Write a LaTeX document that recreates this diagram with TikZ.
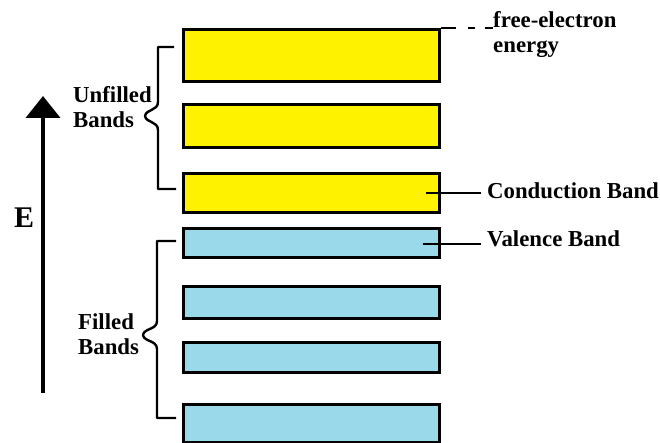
\documentclass[tikz,border=0pt]{standalone}
\usepackage{fontspec}
\setmainfont{Liberation Serif}[BoldFont={Liberation Serif Bold}]
\usetikzlibrary{arrows.meta,calc}
\definecolor{bandyellow}{RGB}{255,242,0}
\definecolor{bandblue}{RGB}{153,217,234}
\begin{document}
\begin{tikzpicture}[x=1pt,y=-1pt,
  band/.style={draw=black,line width=2.6pt,anchor=north west,inner sep=0pt,minimum width=256pt},
  ubandbox/.style={band,fill=bandyellow},
  fbandbox/.style={band,fill=bandblue},
  lbl/.style={font=\rmfamily\bfseries\fontsize{22.8}{25.5}\selectfont,inner sep=0pt,align=left},
  brace/.style={line width=2.4pt,line join=round},
  pointer/.style={line width=2pt}]
\useasboundingbox (0,0) rectangle (660,443);
% bands
\node[ubandbox,minimum height=52pt] (u1) at (182,28) {};
\node[ubandbox,minimum height=43pt] (u2) at (182,103) {};
\node[ubandbox,minimum height=39pt] (u3) at (182,172) {};
\node[fbandbox,minimum height=29pt] (f1) at (182,227) {};
\node[fbandbox,minimum height=32pt] (f2) at (182,285) {};
\node[fbandbox,minimum height=30pt] (f3) at (182,341) {};
\node[fbandbox,minimum height=38pt] (f4) at (182,403) {};
% labels
\node[lbl,anchor=north west] (fe) at (493,11) {free-electron\\energy};
\node[lbl,anchor=base west] (cb) at (487,199) {Conduction Band};
\node[lbl,anchor=base west] (vb) at (487,247) {Valence Band};
\node[lbl,anchor=north west] (ub) at (73,86) {Unfilled\\Bands};
\node[lbl,anchor=north west] (fb) at (78,313) {Filled\\Bands};
\node[font=\rmfamily\bfseries\fontsize{30}{32}\selectfont,inner sep=0pt,anchor=base west] (e) at (14,228) {E};
% energy arrow
\coordinate (ea) at (43,393);
\coordinate (eb) at (43,96);
\draw[line width=4pt,-{Triangle[width=34pt,length=22pt]}] (ea) -- (eb);
% free electron level
\draw[line width=2.2pt,dash pattern=on 15pt off 12pt on 7pt off 10pt on 8pt off 50pt] (u1.north east) -- ($(u1.north east)+(52,0)$);
% pointers
\draw[pointer] ($(u3.east)+(-15,0)$) -- ++(55,0);
\draw[pointer] ($(f1.east)+(-18,1.5)$) -- ++(58,0);
% braces
\draw[brace] (174,47) -- (158,47) -- (158,102)
  .. controls (158,111) and (146,109) .. (145,116)
  .. controls (146,123) and (158,121) .. (158,130) -- (158,189) -- (176,189);
\draw[brace] (176,241) -- (157,241) -- (157,321)
  .. controls (157,330) and (144,328) .. (143,335)
  .. controls (144,342) and (157,340) .. (157,349) -- (157,418) -- (176,418);
\end{tikzpicture}
\end{document}
